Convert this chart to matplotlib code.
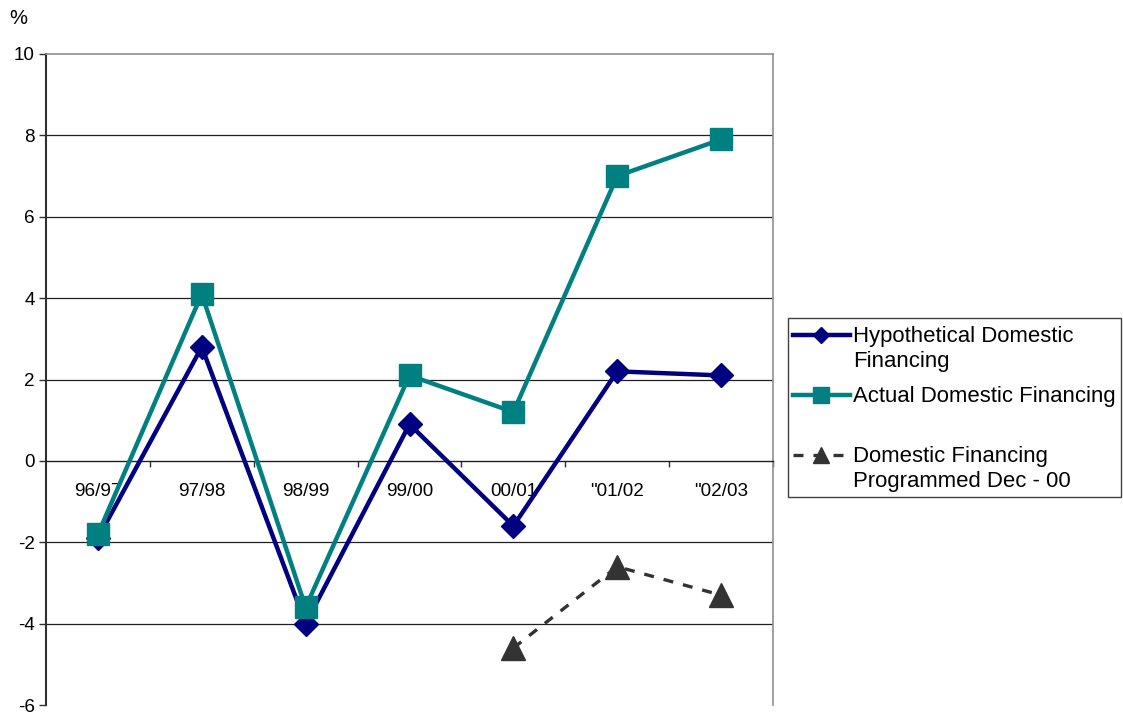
import numpy as np
import matplotlib.pyplot as plt
from matplotlib.ticker import FixedLocator
from matplotlib.lines import Line2D
from matplotlib.patches import Rectangle

plt.rcParams['font.family'] = ['Liberation Sans', 'DejaVu Sans']

periods = ['96/97', '97/98', '98/99', '99/00', '00/01', '"01/02', '"02/03']
hypothetical = [-1.9, 2.8, -4.0, 0.9, -1.6, 2.2, 2.1]
actual = [-1.8, 4.1, -3.6, 2.1, 1.2, 7.0, 7.9]
programmed_periods = ['00/01', '"01/02', '"02/03']
programmed = [-4.6, -2.6, -3.3]
y_ticks = [-6, -4, -2, 0, 2, 4, 6, 8, 10]

W, H = 1123, 716
fig = plt.figure(figsize=(W/100, H/100), dpi=100)
ax = fig.add_axes([46/W, 1-705/H, (773-46)/W, (705-54)/H])

def px(x, y):
    return x/W, 1-y/H

x = np.arange(len(periods))
xp = [periods.index(p) for p in programmed_periods]

for g in [-4, -2, 2, 4, 6, 8]:
    ax.axhline(g, color='#202020', lw=0.9, zorder=1)

styles = [
    dict(color='#000080', lw=3.2, marker='D', ms=12),
    dict(color='#008080', lw=3.2, marker='s', ms=16),
    dict(color='#333333', lw=2.4, ls=(0, (3, 3)), marker='^', ms=17),
]
ax.plot(x, hypothetical, zorder=3, **styles[0])
ax.plot(x, actual, zorder=4, **styles[1])
ax.plot(xp, programmed, zorder=3, **styles[2])

ax.set_xlim(-0.5, len(periods) - 0.5)
ax.set_ylim(-6, 10)
ax.set_yticks(y_ticks)
ax.set_yticklabels([str(v) for v in y_ticks])
ax.set_xticks(x)
ax.set_xticklabels(periods)
ax.xaxis.set_minor_locator(FixedLocator(np.arange(0.5, len(periods), 1.0)))

ax.spines['bottom'].set_position(('data', 0))
ax.spines['bottom'].set_color('#202020')
ax.spines['bottom'].set_linewidth(1.0)
ax.spines['left'].set_color('#303030')
ax.spines['left'].set_linewidth(1.5)
for s in ['top', 'right']:
    ax.spines[s].set_color('#909090')
    ax.spines[s].set_linewidth(1.2)

ax.tick_params(axis='x', which='major', length=0, pad=16, labelsize=13.6)
ax.tick_params(axis='x', which='minor', length=4, width=1, color='#303030', direction='out')
ax.tick_params(axis='y', length=5, width=1, color='#303030', pad=3, labelsize=13.6)

fig.text(*px(9, 18), '%', fontsize=14.5, va='center', ha='left')

# legend drawn by hand so the handles line up with the first text line
legend_labels = ['Hypothetical Domestic\nFinancing', 'Actual Domestic Financing',
                 'Domestic Financing\nProgrammed Dec - 00']
legend_rows = [335, 395, 455]
x0, y0 = px(788, 497)
x1, y1 = px(1121, 318)
fig.add_artist(Rectangle((x0, y0), x1 - x0, y1 - y0, transform=fig.transFigure,
                         fill=False, edgecolor='#404040', lw=1.0))
for lab, row, st in zip(legend_labels, legend_rows, styles):
    hx0, hy = px(793, row)
    hx1, _ = px(850, row)
    mx, _ = px(821, row)
    line_st = {k: v for k, v in st.items() if k not in ('marker', 'ms')}
    fig.add_artist(Line2D([hx0, hx1], [hy, hy], transform=fig.transFigure, **line_st))
    fig.add_artist(Line2D([mx], [hy], transform=fig.transFigure, color=st['color'],
                          marker=st['marker'], ms=st['ms'] * 0.7, lw=0))
    tx, ty = px(853, row - 9)
    fig.text(tx, ty, lab, fontsize=15.9, va='top', ha='left', linespacing=1.25)

fig.savefig('out.png', dpi=100)
